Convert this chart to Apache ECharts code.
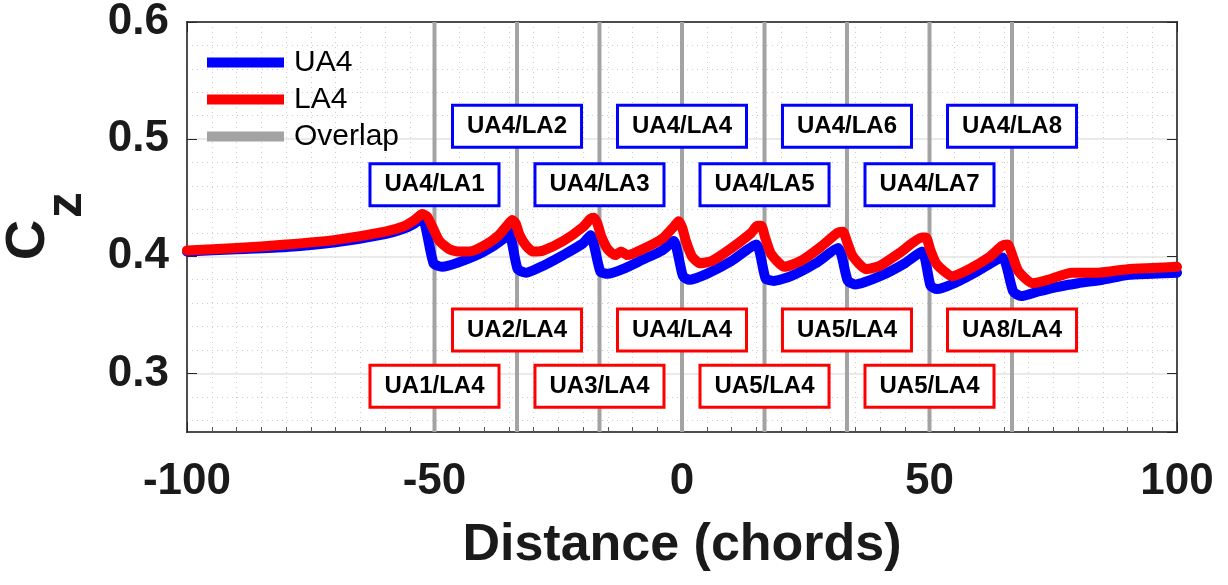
<!DOCTYPE html>
<html>
<head>
<meta charset="utf-8">
<script src="https://cdn.jsdelivr.net/npm/echarts@6/dist/echarts.min.js"></script>
<style>
  html, body { margin: 0; padding: 0; background: #fff; }
  #chart { width: 1228px; height: 585px; }
</style>
</head>
<body>
<div id="chart"></div>
<script>
// UA4 (blue) curve
const ua4X = [-100, -90, -80, -70, -60, -56, -54, -52.5, -50.2, -48.5, -45, -40, -36, -35,
  -33.2, -31.5, -28, -24, -20, -18.5, -16.5, -15, -12, -8, -4, -1.7, 0.2, 1.5, 5, 10, 15,
  16.9, 18.5, 22, 27, 31.5, 33.5, 35, 40, 45, 48.5, 50.2, 51.5, 55, 60, 64.7, 66.9, 68.5,
  72, 76, 80, 85, 90, 95, 100];
const ua4Y = [0.404, 0.406, 0.408, 0.412, 0.419, 0.424, 0.428, 0.433, 0.394, 0.391, 0.395, 0.404, 0.415, 0.421,
  0.389, 0.386, 0.392, 0.401, 0.411, 0.418, 0.387, 0.385, 0.389, 0.397, 0.405, 0.413, 0.383, 0.380, 0.385, 0.396, 0.410,
  0.381, 0.379, 0.383, 0.394, 0.407, 0.379, 0.376, 0.383, 0.394, 0.404, 0.375, 0.372, 0.377, 0.388, 0.399, 0.370, 0.366,
  0.370, 0.374, 0.377, 0.380, 0.384, 0.385, 0.386];

// LA4 (red) curve
const la4X = [-100, -90, -80, -70, -60, -56, -54, -52.5, -51.5, -50.3, -49, -47, -45, -43, -40, -37, -35, -34.3,
  -33.6, -32.8, -31.5, -30, -28, -24, -20, -18.5, -17.8, -17.1, -16.3, -15, -13.5, -12.3, -11, -8, -4, -1.5,
  -0.7, 0, 0.8, 2, 3.6, 6, 10, 14, 15.2, 16, 16.8, 18, 20.7, 24, 28, 31.4, 32.5, 33.3, 34.5, 37.2, 40, 44,
  48.5, 49.3, 50.2, 51.5, 54.6, 58, 62, 64.7, 65.8, 66.8, 68, 70.8, 74, 78.8, 84, 90, 95, 100];
const la4Y = [0.405, 0.407, 0.410, 0.414, 0.421, 0.426, 0.431, 0.436, 0.434, 0.424, 0.413, 0.406, 0.404, 0.404, 0.409, 0.418, 0.428, 0.431,
  0.428, 0.418, 0.409, 0.404, 0.405, 0.413, 0.425, 0.432, 0.433, 0.428, 0.417, 0.406, 0.401, 0.404, 0.401, 0.406, 0.415, 0.426,
  0.430, 0.425, 0.413, 0.400, 0.394, 0.396, 0.407, 0.420, 0.426, 0.426, 0.416, 0.402, 0.391, 0.396, 0.408, 0.420, 0.421, 0.413, 0.400, 0.389, 0.392, 0.403,
  0.416, 0.416, 0.405, 0.393, 0.383, 0.389, 0.399, 0.409, 0.410, 0.400, 0.387, 0.377, 0.380, 0.386, 0.386, 0.389, 0.390, 0.391];

// overlap positions (gray vertical lines)
const overlapX = [-50, -33.33, -16.67, 0, 16.67, 33.33, 50, 66.67];

// annotation boxes
const upperLabels = ['UA4/LA1', 'UA4/LA2', 'UA4/LA3', 'UA4/LA4', 'UA4/LA5', 'UA4/LA6', 'UA4/LA7', 'UA4/LA8'];
const upperLabelY = [0.461, 0.511, 0.461, 0.511, 0.461, 0.511, 0.461, 0.511];
const lowerLabels = ['UA1/LA4', 'UA2/LA4', 'UA3/LA4', 'UA4/LA4', 'UA5/LA4', 'UA5/LA4', 'UA5/LA4', 'UA8/LA4'];
const lowerLabelY = [0.289, 0.337, 0.289, 0.337, 0.289, 0.337, 0.289, 0.337];

const xTicks = [-100, -50, 0, 50, 100];
const yTicks = [0.3, 0.4, 0.5, 0.6];

const FONT = "'Liberation Sans', Arial, sans-serif";
const TXT = "#1a1a1a";

const chart = echarts.init(document.getElementById("chart"));

const zip = (xs, ys) => xs.map((x, i) => [x, ys[i]]);

// vertical segments with breaks between them
const overlapData = [];
overlapX.forEach(x => {
  overlapData.push([x, 0.25], [x, 0.6], [x, "-"]);
});

const boxLabel = (color) => ({
  show: true,
  position: "inside",
  formatter: p => p.value[2],
  color: "#000",
  fontFamily: FONT,
  fontWeight: "bold",
  fontSize: 24,
  backgroundColor: "#fff",
  borderColor: color,
  borderWidth: 3,
  padding: [8, 13, 7, 13]
});

const sideAxis = {
  axisLine: { show: true, onZero: false, lineStyle: { color: "#262626", width: 1.5 } },
  axisTick: { show: true, inside: true, length: 10, lineStyle: { color: "#262626" } },
  axisLabel: { show: false },
  splitLine: { show: false }
};

const option = {
  animation: false,
  backgroundColor: "#fff",
  grid: {
    left: 187, right: 51, top: 19, bottom: 153,
    show: true, borderColor: "#262626", borderWidth: 1.5
  },
  legend: {
    data: ["UA4", "LA4", "Overlap"],
    orient: "vertical",
    left: 207,
    top: 47,
    padding: 0,
    itemGap: 6,
    itemWidth: 77,
    itemHeight: 10,
    icon: "rect",
    textStyle: { fontFamily: FONT, fontSize: 30, color: "#000", lineHeight: 31, padding: [0, 0, 0, 5] }
  },
  graphic: [
    {
      type: "text", x: 29, y: 240, rotation: Math.PI / 2,
      style: { text: "C", font: "bold 56px " + FONT, fill: TXT, align: "center", verticalAlign: "middle" }
    },
    {
      type: "text", x: 67, y: 205, rotation: Math.PI / 2,
      style: { text: "z", font: "bold 52px " + FONT, fill: TXT, align: "center", verticalAlign: "middle" }
    }
  ],
  xAxis: [
    {
      type: "value", position: "bottom",
      min: -100, max: 100, interval: 50,
      name: "Distance (chords)", nameLocation: "middle", nameGap: 88,
      nameTextStyle: { fontFamily: FONT, fontWeight: "bold", fontSize: 52, color: TXT },
      axisLine: { show: true, onZero: false, lineStyle: { color: "#262626", width: 1.5 } },
      axisTick: { show: true, inside: true, length: 10, lineStyle: { color: "#262626" } },
      minorTick: { show: true, splitNumber: 10, length: 5, lineStyle: { color: "#555" } },
      axisLabel: {
        margin: 28, fontFamily: FONT, fontWeight: "bold", fontSize: 44, color: TXT,
        formatter: v => xTicks.includes(v) ? String(v) : ""
      },
      splitLine: { show: true, lineStyle: { color: "#e3e3e3", width: 1.5 } },
      minorSplitLine: { show: true, lineStyle: { color: "#cdcdcd", type: [1, 4], width: 1 } }
    },
    Object.assign({
      type: "value", position: "top",
      min: -100, max: 100, interval: 50
    }, sideAxis)
  ],
  yAxis: [
    {
      type: "value", position: "left",
      min: 0.25, max: 0.6, splitNumber: 4, minInterval: 0.1, maxInterval: 0.1,
      axisLine: { show: true, onZero: false, lineStyle: { color: "#262626", width: 1.5 } },
      axisTick: { show: true, inside: true, length: 10, lineStyle: { color: "#262626" } },
      axisLabel: {
        showMinLabel: false, margin: 18, fontFamily: FONT, fontWeight: "bold", fontSize: 44, color: TXT,
        formatter: v => {
          const t = yTicks.find(k => Math.abs(k - v) < 1e-6);
          return t === undefined ? "" : t.toFixed(1);
        }
      },
      splitLine: { show: true, lineStyle: { color: "#e3e3e3", width: 1.5 } },
      minorTick: { show: false, splitNumber: 5 },
      minorSplitLine: { show: true, lineStyle: { color: "#cdcdcd", type: [1, 4], width: 1 } }
    },
    Object.assign({
      type: "value", position: "right",
      min: 0.25, max: 0.6, splitNumber: 4, minInterval: 0.1, maxInterval: 0.1
    }, sideAxis)
  ],
  series: [
    {
      name: "Overlap",
      type: "line",
      data: overlapData,
      symbol: "none",
      connectNulls: false,
      itemStyle: { color: "#a3a3a3" },
      lineStyle: { color: "#a3a3a3", width: 4 },
      z: 2
    },
    {
      name: "UA4",
      type: "line",
      data: zip(ua4X, ua4Y),
      symbol: "none",
      smooth: 0.2,
      itemStyle: { color: "#0000ff" },
      lineStyle: { color: "#0000ff", width: 10, join: "round", cap: "round" },
      z: 3
    },
    {
      name: "LA4",
      type: "line",
      data: zip(la4X, la4Y),
      symbol: "none",
      smooth: 0.2,
      itemStyle: { color: "#ff0000" },
      lineStyle: { color: "#ff0000", width: 10, join: "round", cap: "round" },
      z: 4
    },
    {
      name: "upper boxes",
      type: "scatter",
      data: overlapX.map((x, i) => [x, upperLabelY[i], upperLabels[i]]),
      symbolSize: 1,
      itemStyle: { color: "rgba(0,0,0,0)", opacity: 1 },
      label: boxLabel("#0000ff"),
      emphasis: { disabled: true },
      z: 10
    },
    {
      name: "lower boxes",
      type: "scatter",
      data: overlapX.map((x, i) => [x, lowerLabelY[i], lowerLabels[i]]),
      symbolSize: 1,
      itemStyle: { color: "rgba(0,0,0,0)", opacity: 1 },
      label: boxLabel("#ff0000"),
      emphasis: { disabled: true },
      z: 10
    }
  ]
};

chart.setOption(option);
</script>
</body>
</html>
